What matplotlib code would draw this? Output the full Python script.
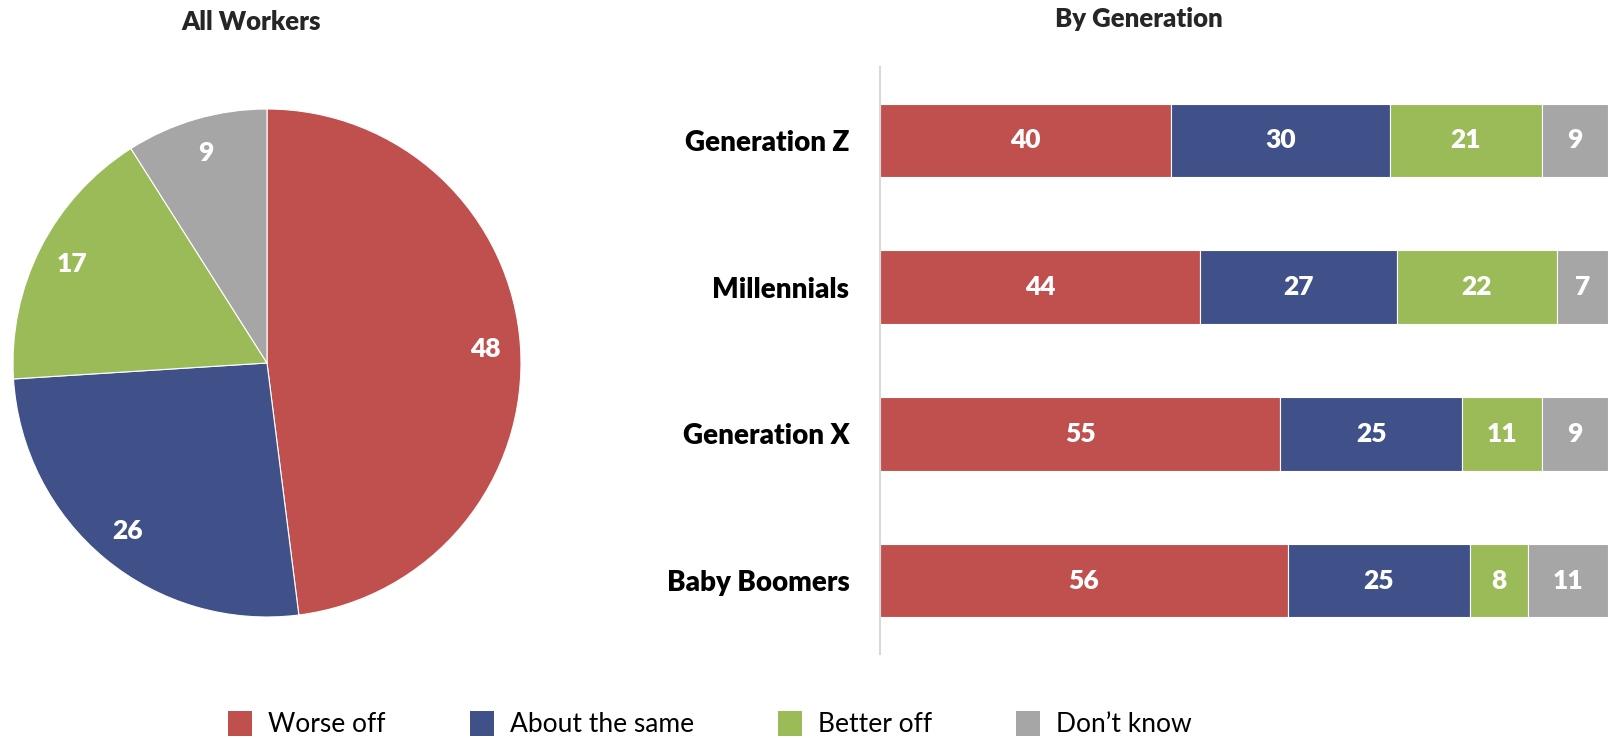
import numpy as np
import matplotlib
matplotlib.use("Agg")
import matplotlib.pyplot as plt
from matplotlib.patches import Patch

plt.rcParams['font.family'] = ['Lato', 'DejaVu Sans']

# data
categories = ['Worse off', 'About the same', 'Better off', "Don\u2019t know"]
colors = ['#C0504D', '#405189', '#9BBB59', '#A6A6A6']
all_workers = [48, 26, 17, 9]

generations = ['Generation Z', 'Millennials', 'Generation X', 'Baby Boomers']
worse = [40, 44, 55, 56]
same = [30, 27, 25, 25]
better = [21, 22, 11, 8]
dontknow = [9, 7, 9, 11]

fig = plt.figure(figsize=(16.14, 7.38), dpi=100)

#pie on the left
ax1 = fig.add_axes([13/1614, 121/738, 508/1614, 508/738])
wedges, texts = ax1.pie(all_workers, colors=colors, startangle=90, counterclock=False,
                        labels=[str(v) for v in all_workers], labeldistance=0.86,
                        wedgeprops=dict(edgecolor='white', linewidth=0.8),
                        textprops=dict(color='white', fontsize=19, fontweight='heavy',
                                       ha='center', va='center'))
ax1.set_xlim(-1, 1)
ax1.set_ylim(-1, 1)
ax1.set_aspect('equal')
fig.text(251/1614, 1-22/738, 'All Workers', ha='center', va='center',
         fontsize=18.5, fontweight='heavy', color='#262626')

#stacked bars on the right
ax2 = fig.add_axes([880/1614, 84/738, 728/1614, 587/738])
series = [worse, same, better, dontknow]
y = np.arange(len(generations))
left = np.zeros(len(generations))
for vals, c in zip(series, colors):
    vals = np.array(vals)
    ax2.barh(y, vals, left=left, height=0.5, color=c, edgecolor='white', linewidth=0.8)
    for yi, l, v in zip(y, left, vals):
        ax2.text(l + v/2, yi, str(v), ha='center', va='center', color='white',
                 fontsize=19, fontweight='heavy')
    left = left + vals
ax2.set_xlim(0, 100)
ax2.set_ylim(len(generations) - 0.5, -0.5)
ax2.set_yticks(y)
ax2.set_yticklabels(generations, fontsize=20, fontweight='heavy')
ax2.tick_params(axis='y', length=0, pad=22)
ax2.set_xticks([])
for s in ['top', 'right', 'bottom']:
    ax2.spines[s].set_visible(False)
ax2.spines['left'].set_color('#D9D9D9')
ax2.spines['left'].set_linewidth(1.5)
fig.text(1139/1614, 1-19/738, 'By Generation', ha='center', va='center',
         fontsize=18.5, fontweight='heavy', color='#262626')

handles = [Patch(facecolor=c) for c in colors]
fig.legend(handles, categories, loc='center', bbox_to_anchor=(710/1614, 14/738),
           ncol=4, frameon=False, fontsize=19, handlelength=0.9, handleheight=1.1,
           columnspacing=3.2, handletextpad=0.6)

fig.savefig('out.png', dpi=100)
